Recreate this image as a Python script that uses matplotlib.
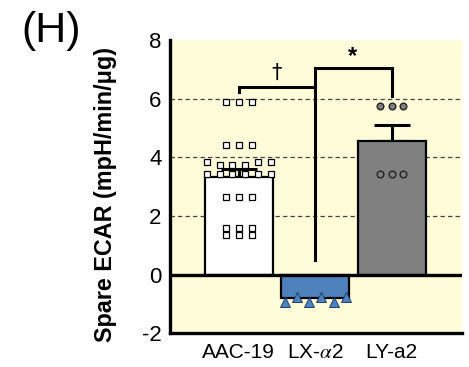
import matplotlib
matplotlib.use("Agg")
import matplotlib.pyplot as plt

plt.rcParams["font.family"] = ["Liberation Sans", "DejaVu Sans"]
plt.rcParams["axes.unicode_minus"] = False
plt.rcParams["mathtext.fontset"] = "stix"

# data
categories = ["AAC-19", "LX-$\\alpha$2", "LY-a2"]
means = [3.32, -0.78, 4.57]
sem_up = [0.30, 0.0, 0.54]
bar_colors = ["white", "#4f81bd", "#808080"]

aac_points = [5.88, 5.88, 5.88, 4.43, 4.43, 4.43,
              3.85, 3.74, 3.74, 3.74, 3.85, 3.85,
              3.45, 3.45, 3.45, 3.45, 3.45, 3.45,
              2.66, 2.66, 2.66, 1.59, 1.59, 1.59, 1.37, 1.37, 1.37]
lx_points = [-0.91, -0.74, -0.91, -0.74, -0.91, -0.76]
ly_points = [5.74, 5.74, 5.74, 3.45, 3.45, 3.45]

# significance brackets
dagger_left_leg = 6.23
dagger_level = 6.39
star_level = 7.05
star_right_leg = 6.1
stem_bottom = 0.51


def swarm(values, center, step, tol=0.2):
    # put near-equal values side by side in a row
    rows = []
    for v in values:
        if rows and abs(rows[-1][0] - v) <= tol:
            rows[-1].append(v)
        else:
            rows.append([v])
    xs, ys = [], []
    for r in rows:
        n = len(r)
        for i, v in enumerate(r):
            xs.append(center + (i - (n - 1) / 2) * step)
            ys.append(v)
    return xs, ys


fig = plt.figure(figsize=(4.69, 3.67), dpi=100)
ax = fig.add_axes([0.3625, 0.0913, 0.6225, 0.7997])
ax.set_facecolor("#fffdd9")

x = range(len(categories))
ax.bar(x, means, width=0.89, color=bar_colors, edgecolor="black", linewidth=1.6, zorder=3)

for i in [0, 2]:
    ax.errorbar(i, means[i], yerr=[[0], [sem_up[i]]], fmt="none", ecolor="black",
                elinewidth=2.2, capsize=13, capthick=2.2, zorder=2)

xs, ys = swarm(aac_points, 0, 0.167)
ax.plot(xs, ys, ls="none", marker="s", ms=4.5, mfc="white", mec="black", mew=0.9, zorder=5)
xs, ys = swarm(lx_points, 1, 0.16)
ax.plot(xs, ys, ls="none", marker="^", ms=6.5, mfc="#4f81bd", mec="#1f3f6f", mew=0.7, zorder=5)
xs, ys = swarm(ly_points, 2, 0.148)
ax.plot(xs, ys, ls="none", marker="o", ms=4.8, mfc="#808080", mec="#222222", mew=1.0, zorder=5)

# brackets
ax.plot([0, 0, 1], [dagger_left_leg, dagger_level, dagger_level], color="black", lw=2.2,
        solid_joinstyle="miter", zorder=4)
ax.plot([1, 1, 2, 2], [stem_bottom, star_level, star_level, star_right_leg], color="black", lw=2.2,
        solid_joinstyle="miter", zorder=4)
ax.text(0.49, 6.88, "\u2020", ha="center", va="center", fontsize=15, family=["DejaVu Sans"])
ax.text(1.49, 7.45, "*", ha="center", va="center", fontsize=17, fontweight="bold")

ax.axhline(0, color="black", lw=2.4, zorder=4)
for g in [2, 4, 6]:
    ax.axhline(g, color="#444444", lw=0.9, ls=(0, (3.5, 2.5)), zorder=1)

ax.set_xlim(-0.9, 2.92)
ax.set_ylim(-2, 8)
ax.set_yticks([-2, 0, 2, 4, 6, 8])
ax.set_xticks(list(x))
ax.set_xticklabels(categories, fontsize=15)
ax.tick_params(axis="y", length=0, labelsize=16, pad=6)
ax.tick_params(axis="x", length=0, pad=7)

for s in ["top", "right"]:
    ax.spines[s].set_visible(False)
ax.spines["left"].set_linewidth(2.4)
ax.spines["bottom"].set_linewidth(2.4)

ax.set_ylabel("Spare ECAR (mpH/min/\u03bcg)", fontsize=16.8, fontweight="bold")
ax.yaxis.set_label_coords(-0.18, 0.475)

fig.text(0.045, 0.915, "(H)", fontsize=31, ha="left", va="center")

fig.savefig("out.png", dpi=100)
